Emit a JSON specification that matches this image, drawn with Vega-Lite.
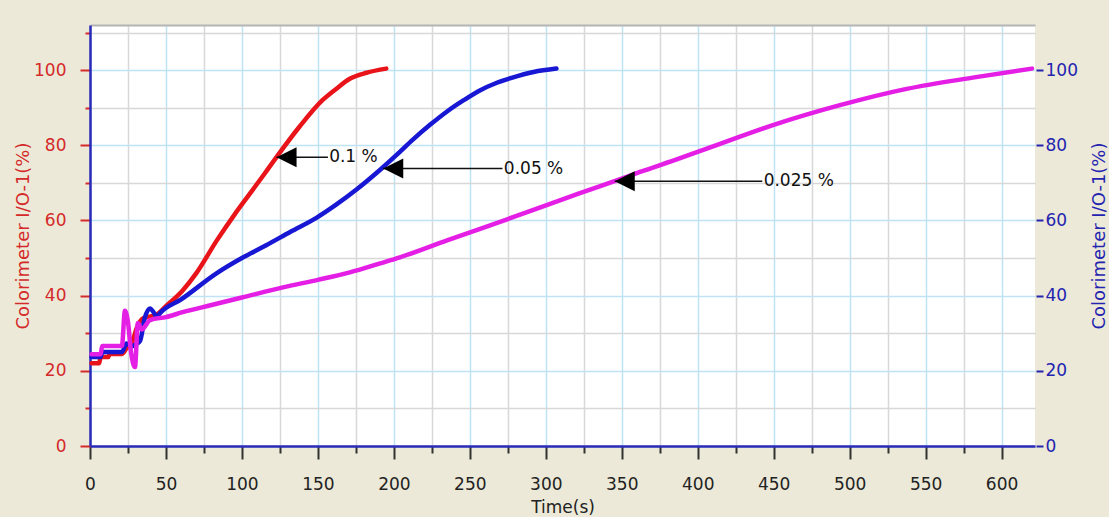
{
  "$schema": "https://vega.github.io/schema/vega-lite/v6.json",
  "autosize": {"type": "none"},
  "width": 945,
  "height": 421,
  "padding": {"left": 90, "top": 25, "right": 74, "bottom": 71},
  "background": "#ECE9D8",
  "config": {"view": {"fill": "white", "stroke": null}, "font": "DejaVu Sans"},
  "datasets": {
    "curves": [
      {"conc": "0.1 %", "t": 1, "v": 22}, {"conc": "0.1 %", "t": 6, "v": 22}, {"conc": "0.1 %", "t": 7, "v": 23.7}, {"conc": "0.1 %", "t": 12, "v": 23.7}, {"conc": "0.1 %", "t": 13, "v": 24.5}, {"conc": "0.1 %", "t": 21, "v": 24.5}, {"conc": "0.1 %", "t": 24, "v": 26}, {"conc": "0.1 %", "t": 28, "v": 28}, {"conc": "0.1 %", "t": 31, "v": 31.6}, {"conc": "0.1 %", "t": 35, "v": 34}, {"conc": "0.1 %", "t": 40, "v": 34.5}, {"conc": "0.1 %", "t": 44, "v": 35}, {"conc": "0.1 %", "t": 50, "v": 37.2}, {"conc": "0.1 %", "t": 61, "v": 41.4}, {"conc": "0.1 %", "t": 70, "v": 46}, {"conc": "0.1 %", "t": 83.5, "v": 54.7}, {"conc": "0.1 %", "t": 95, "v": 61.5}, {"conc": "0.1 %", "t": 105, "v": 67}, {"conc": "0.1 %", "t": 115, "v": 72.5}, {"conc": "0.1 %", "t": 123, "v": 77}, {"conc": "0.1 %", "t": 138, "v": 85}, {"conc": "0.1 %", "t": 153, "v": 92}, {"conc": "0.1 %", "t": 162, "v": 95}, {"conc": "0.1 %", "t": 171, "v": 97.7}, {"conc": "0.1 %", "t": 182, "v": 99.3}, {"conc": "0.1 %", "t": 195, "v": 100.4},
      {"conc": "0.05 %", "t": 1, "v": 23.7}, {"conc": "0.05 %", "t": 7, "v": 23.7}, {"conc": "0.05 %", "t": 8, "v": 25}, {"conc": "0.05 %", "t": 21, "v": 25}, {"conc": "0.05 %", "t": 24, "v": 27.3}, {"conc": "0.05 %", "t": 27, "v": 26.5}, {"conc": "0.05 %", "t": 30, "v": 27}, {"conc": "0.05 %", "t": 33, "v": 28}, {"conc": "0.05 %", "t": 36, "v": 34}, {"conc": "0.05 %", "t": 39.5, "v": 36.6}, {"conc": "0.05 %", "t": 42, "v": 35.5}, {"conc": "0.05 %", "t": 44, "v": 34.3}, {"conc": "0.05 %", "t": 46, "v": 35.3}, {"conc": "0.05 %", "t": 60, "v": 39}, {"conc": "0.05 %", "t": 83.5, "v": 46}, {"conc": "0.05 %", "t": 100, "v": 50}, {"conc": "0.05 %", "t": 116, "v": 53.4}, {"conc": "0.05 %", "t": 132, "v": 57}, {"conc": "0.05 %", "t": 149, "v": 60.7}, {"conc": "0.05 %", "t": 162, "v": 64.2}, {"conc": "0.05 %", "t": 175.6, "v": 68.3}, {"conc": "0.05 %", "t": 191, "v": 73.5}, {"conc": "0.05 %", "t": 202, "v": 77.5}, {"conc": "0.05 %", "t": 212.5, "v": 81.5}, {"conc": "0.05 %", "t": 224, "v": 85.5}, {"conc": "0.05 %", "t": 235, "v": 89}, {"conc": "0.05 %", "t": 246, "v": 92}, {"conc": "0.05 %", "t": 256.6, "v": 94.6}, {"conc": "0.05 %", "t": 267, "v": 96.5}, {"conc": "0.05 %", "t": 278, "v": 98}, {"conc": "0.05 %", "t": 292, "v": 99.5}, {"conc": "0.05 %", "t": 307, "v": 100.4},
      {"conc": "0.025 %", "t": 1, "v": 24.4}, {"conc": "0.025 %", "t": 7, "v": 24.4}, {"conc": "0.025 %", "t": 8, "v": 26.6}, {"conc": "0.025 %", "t": 21, "v": 26.6}, {"conc": "0.025 %", "t": 23, "v": 36}, {"conc": "0.025 %", "t": 25, "v": 33}, {"conc": "0.025 %", "t": 27, "v": 25}, {"conc": "0.025 %", "t": 29.6, "v": 21}, {"conc": "0.025 %", "t": 31.5, "v": 32.7}, {"conc": "0.025 %", "t": 34, "v": 31}, {"conc": "0.025 %", "t": 39.5, "v": 33.5}, {"conc": "0.025 %", "t": 50, "v": 34.3}, {"conc": "0.025 %", "t": 61, "v": 35.6}, {"conc": "0.025 %", "t": 80, "v": 37.5}, {"conc": "0.025 %", "t": 100, "v": 39.5}, {"conc": "0.025 %", "t": 127, "v": 42.2}, {"conc": "0.025 %", "t": 150, "v": 44.2}, {"conc": "0.025 %", "t": 171, "v": 46.2}, {"conc": "0.025 %", "t": 191, "v": 48.6}, {"conc": "0.025 %", "t": 204, "v": 50.2}, {"conc": "0.025 %", "t": 235, "v": 54.7}, {"conc": "0.025 %", "t": 278, "v": 60.8}, {"conc": "0.025 %", "t": 322, "v": 67.2}, {"conc": "0.025 %", "t": 349, "v": 71}, {"conc": "0.025 %", "t": 362, "v": 72.9}, {"conc": "0.025 %", "t": 388, "v": 76.5}, {"conc": "0.025 %", "t": 406, "v": 79.1}, {"conc": "0.025 %", "t": 449, "v": 85.3}, {"conc": "0.025 %", "t": 493, "v": 90.6}, {"conc": "0.025 %", "t": 537.5, "v": 95}, {"conc": "0.025 %", "t": 581, "v": 98}, {"conc": "0.025 %", "t": 620, "v": 100.4}
    ],
    "notes": [
      {"label": "0.1 %", "t": 122.8, "t2": 156.6, "tt": 157.4, "v": 76.8},
      {"label": "0.05 %", "t": 193, "t2": 271.5, "tt": 272.4, "v": 73.8},
      {"label": "0.025 %", "t": 345.4, "t2": 442.5, "tt": 443.4, "v": 70.4}
    ]
  },
  "layer": [
    {
      "data": {"name": "curves"},
      "mark": {"type": "line", "strokeWidth": 4.5, "strokeJoin": "round", "strokeCap": "round", "interpolate": "monotone"},
      "encoding": {
        "x": {
          "field": "t", "type": "quantitative",
          "scale": {"domain": [0, 622], "nice": false, "zero": false},
          "axis": {
            "orient": "bottom",
            "values": [0, 25, 50, 75, 100, 125, 150, 175, 200, 225, 250, 275, 300, 325, 350, 375, 400, 425, 450, 475, 500, 525, 550, 575, 600],
            "labelExpr": "datum.value % 50 === 0 ? datum.label : ''",
            "title": "Time(s)", "titleFontSize": 17, "titleFontWeight": "normal", "titleColor": "#222222", "titlePadding": 7,
            "labelFontSize": 17, "labelColor": "#222222", "labelPadding": 17, "labelFlush": false, "labelOverlap": false,
            "tickColor": "#333333", "tickWidth": 2,
            "tickSize": {"condition": {"test": "datum.value % 50 === 0", "value": 13}, "value": 7},
            "domain": true, "domainColor": "#2a2ab8", "domainWidth": 2.5,
            "grid": true, "gridWidth": 1.5,
            "gridColor": {"condition": {"test": "datum.value % 50 === 0", "value": "#bfe2f4"}, "value": "#d8d8d8"}
          }
        },
        "y": {
          "field": "v", "type": "quantitative",
          "scale": {"domain": [0, 112], "nice": false},
          "axis": {
            "orient": "left",
            "values": [0, 10, 20, 30, 40, 50, 60, 70, 80, 90, 100, 110],
            "labelExpr": "datum.value % 20 === 0 ? datum.label : ''",
            "title": "Colorimeter I/O-1(%)", "titleFontSize": 18, "titleFontWeight": "normal", "titleColor": "#d42a2a", "titlePadding": 1,
            "labelFontSize": 17, "labelColor": "#d42a2a", "labelPadding": 14, "labelOverlap": false,
            "tickColor": "#d42a2a", "tickWidth": 2,
            "tickSize": {"condition": {"test": "datum.value % 20 === 0", "value": 10}, "value": 5},
            "domain": true, "domainColor": "#2a2ab8", "domainWidth": 2.5,
            "grid": true, "gridWidth": 1.5,
            "gridColor": {"condition": {"test": "datum.value % 20 === 0", "value": "#bfe2f4"}, "value": "#d8d8d8"}
          }
        },
        "color": {
          "field": "conc", "type": "nominal",
          "scale": {"domain": ["0.1 %", "0.05 %", "0.025 %"], "range": ["#e8141a", "#1717d4", "#e51ee5"]},
          "legend": null
        }
      }
    },
    {
      "data": {"name": "notes"},
      "encoding": {
        "y": {
          "field": "v", "type": "quantitative",
          "scale": {"domain": [0, 112], "nice": false},
          "axis": {
            "orient": "right",
            "values": [0, 20, 40, 60, 80, 100],
            "title": "Colorimeter I/O-1(%)", "titleFontSize": 18, "titleFontWeight": "normal", "titleColor": "#2424b0", "titleAngle": -90, "titlePadding": 31,
            "labelFontSize": 17, "labelColor": "#2424b0", "labelPadding": 2,
            "tickColor": "#2424b0", "tickWidth": 2, "tickSize": 7,
            "domain": false, "grid": false, "offset": 1
          }
        }
      },
      "layer": [
        {
          "mark": {"type": "rule", "color": "#111111", "strokeWidth": 1.5},
          "encoding": {
            "x": {
              "field": "t", "type": "quantitative",
              "axis": {"orient": "top", "title": null, "labels": false, "ticks": false, "grid": false, "domain": true, "domainColor": "#b4b4b4", "domainWidth": 2}
            },
            "x2": {"field": "t2"}
          }
        },
        {
          "mark": {"type": "point", "shape": "M0,0L1,-0.5L1,0.5Z", "filled": true, "color": "#000000", "opacity": 1, "size": 1600, "strokeWidth": 0},
          "encoding": {"x": {"field": "t", "type": "quantitative"}}
        },
        {
          "mark": {"type": "text", "align": "left", "baseline": "middle", "fontSize": 17, "color": "#111111"},
          "encoding": {"x": {"field": "tt", "type": "quantitative"}, "text": {"field": "label"}}
        }
      ]
    }
  ],
  "resolve": {"scale": {"y": "independent"}, "axis": {"y": "independent", "x": "independent"}}
}
